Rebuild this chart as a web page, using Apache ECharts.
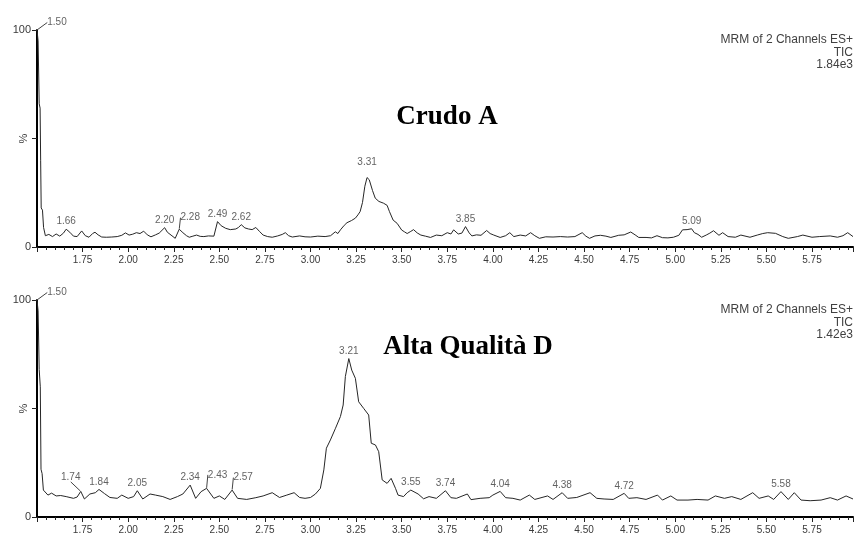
<!DOCTYPE html>
<html>
<head>
<meta charset="utf-8">
<script src="https://cdn.jsdelivr.net/npm/echarts@6/dist/echarts.min.js"></script>
<style>
  html, body { margin: 0; padding: 0; background: #fff; }
  #chart { width: 855px; height: 536px; }
</style>
</head>
<body>
<div id="chart"></div>
<script>
// Retention time axis (minutes) and relative intensity axis (%)
const xMin = 1.5;
const xMax = 5.975;
const xStep = 0.25;
const yTickValues = [0, 50, 100];
const yTickLabels = ['0', '%', '100'];

// Panel headings and acquisition info
const panelTitles = ['Crudo A', 'Alta Qualità D'];
const topInfo = ['MRM of 2 Channels ES+', 'TIC', '1.84e3'];
const bottomInfo = ['MRM of 2 Channels ES+', 'TIC', '1.42e3'];

// TIC trace, sample "Crudo A": [retention time, relative intensity %]
const topTrace = [
  [1.500, 100], [1.506, 95], [1.512, 66], [1.517, 64], [1.520, 40], [1.523, 18], [1.530, 17], [1.536, 9],
  [1.546, 5.2], [1.565, 5.8], [1.585, 4.8], [1.605, 6.0], [1.625, 5.0], [1.645, 6.4], [1.660, 8.2],
  [1.680, 6.8], [1.700, 5.0], [1.720, 4.8], [1.745, 7.4], [1.765, 5.2], [1.785, 4.5], [1.805, 6.2],
  [1.818, 6.8], [1.835, 5.6], [1.855, 4.6], [1.880, 4.5], [1.910, 4.6], [1.940, 4.8], [1.965, 5.4],
  [1.985, 6.5], [2.005, 5.5], [2.025, 5.9], [2.045, 6.6], [2.065, 6.2], [2.085, 7.3], [2.105, 5.6],
  [2.125, 4.7], [2.150, 5.6], [2.170, 6.4], [2.200, 8.9], [2.215, 6.8], [2.235, 5.5], [2.258, 4.0],
  [2.280, 8.2], [2.300, 6.6], [2.320, 5.2], [2.335, 4.5], [2.355, 5.0], [2.375, 5.5], [2.395, 4.9],
  [2.415, 4.8], [2.440, 5.1], [2.470, 5.0], [2.490, 11.7], [2.510, 9.8], [2.535, 8.6], [2.560, 8.0],
  [2.590, 8.3], [2.605, 9.0], [2.620, 10.3], [2.640, 8.8], [2.660, 8.3], [2.680, 8.0], [2.700, 9.0],
  [2.720, 7.2], [2.740, 5.5], [2.765, 4.8], [2.790, 4.5], [2.820, 5.1], [2.845, 5.8], [2.862, 6.6],
  [2.880, 5.2], [2.900, 4.6], [2.940, 5.1], [2.970, 4.7], [3.000, 4.6], [3.040, 5.0], [3.080, 4.8],
  [3.110, 5.2], [3.136, 7.0], [3.150, 6.2], [3.164, 7.9], [3.185, 10.0], [3.200, 11.2], [3.225, 12.2],
  [3.246, 13.3], [3.260, 14.8], [3.272, 16.3], [3.285, 20.5], [3.298, 28], [3.310, 32], [3.322, 31],
  [3.340, 26], [3.355, 22.5], [3.375, 21], [3.400, 20.2], [3.420, 19.2], [3.433, 16.3], [3.453, 12.4],
  [3.475, 10.9], [3.500, 7.8], [3.515, 7.0], [3.530, 6.2], [3.550, 7.2], [3.565, 8.0], [3.585, 6.5],
  [3.605, 5.5], [3.630, 5.0], [3.658, 4.4], [3.690, 5.5], [3.720, 5.2], [3.750, 6.6], [3.770, 6.0],
  [3.785, 7.9], [3.810, 6.0], [3.830, 6.4], [3.850, 9.4], [3.870, 6.5], [3.885, 5.1], [3.910, 5.6],
  [3.935, 5.4], [3.966, 7.6], [3.985, 6.2], [4.005, 5.5], [4.040, 4.4], [4.070, 5.2], [4.093, 6.6],
  [4.115, 4.8], [4.150, 5.5], [4.180, 5.1], [4.207, 6.6], [4.230, 5.2], [4.255, 4.0], [4.290, 4.7],
  [4.330, 4.6], [4.370, 4.8], [4.410, 4.6], [4.450, 4.8], [4.490, 6.6], [4.510, 5.0], [4.530, 4.0],
  [4.560, 5.1], [4.590, 5.4], [4.620, 5.0], [4.647, 4.4], [4.690, 5.4], [4.720, 5.6], [4.756, 6.9],
  [4.780, 5.6], [4.800, 4.4], [4.840, 4.4], [4.870, 4.2], [4.900, 5.2], [4.930, 4.3], [4.960, 4.2],
  [4.990, 4.5], [5.020, 5.4], [5.040, 7.9], [5.065, 8.0], [5.090, 8.4], [5.105, 6.6], [5.125, 5.8],
  [5.145, 4.5], [5.170, 5.5], [5.190, 6.4], [5.210, 7.5], [5.240, 5.4], [5.260, 6.6], [5.290, 4.8],
  [5.330, 4.5], [5.360, 5.5], [5.410, 4.5], [5.450, 5.5], [5.480, 6.2], [5.507, 6.6], [5.550, 6.3],
  [5.590, 4.8], [5.620, 4.0], [5.670, 4.8], [5.700, 5.5], [5.750, 4.5], [5.790, 4.8], [5.850, 5.1],
  [5.890, 4.5], [5.920, 5.2], [5.946, 6.6], [5.975, 4.8]
];

// TIC trace, sample "Alta Qualità D": [retention time, relative intensity %]
const bottomTrace = [
  [1.500, 100], [1.506, 95], [1.512, 68], [1.518, 60], [1.522, 22], [1.528, 20], [1.535, 12.4],
  [1.545, 11.5], [1.560, 10.1], [1.580, 11.0], [1.605, 9.7], [1.630, 9.9], [1.660, 9.4], [1.700, 8.6],
  [1.720, 9.2], [1.740, 11.8], [1.760, 8.3], [1.790, 10.6], [1.820, 11.2], [1.840, 12.7], [1.870, 10.8],
  [1.900, 9.0], [1.940, 8.6], [1.965, 10.1], [2.000, 8.6], [2.030, 9.4], [2.050, 12.1], [2.080, 8.3],
  [2.120, 10.6], [2.150, 10.1], [2.190, 9.4], [2.230, 8.1], [2.270, 9.4], [2.300, 10.6], [2.340, 14.7],
  [2.370, 8.6], [2.400, 11.7], [2.430, 13.2], [2.470, 8.6], [2.500, 9.7], [2.530, 8.1], [2.570, 12.4],
  [2.600, 8.6], [2.650, 8.1], [2.700, 8.9], [2.740, 9.7], [2.790, 11.2], [2.830, 9.0], [2.870, 10.1],
  [2.910, 11.2], [2.940, 9.0], [2.970, 8.6], [3.000, 9.0], [3.027, 10.6], [3.054, 13.2], [3.073, 21.7],
  [3.087, 31.7], [3.109, 35.5], [3.137, 40.9], [3.164, 46.3], [3.179, 51.6], [3.191, 64.7], [3.210, 73],
  [3.226, 67.7], [3.246, 63.9], [3.264, 53.1], [3.292, 50], [3.319, 47], [3.333, 34], [3.356, 33.2],
  [3.374, 30.1], [3.393, 17.1], [3.420, 15.5], [3.442, 17.8], [3.466, 13.2], [3.480, 10.1], [3.510, 9.4],
  [3.530, 11.2], [3.550, 12.4], [3.590, 10.6], [3.620, 8.4], [3.650, 9.4], [3.690, 8.6], [3.740, 12.1],
  [3.770, 8.9], [3.800, 8.6], [3.860, 10.6], [3.880, 8.0], [3.930, 8.6], [3.980, 8.9], [4.000, 10.1],
  [4.040, 11.8], [4.070, 8.9], [4.110, 8.6], [4.150, 7.8], [4.200, 10.1], [4.230, 8.1], [4.300, 9.7],
  [4.330, 8.1], [4.380, 11.2], [4.410, 8.6], [4.460, 9.0], [4.533, 11.2], [4.570, 8.6], [4.610, 8.3],
  [4.660, 8.1], [4.720, 10.9], [4.745, 8.6], [4.790, 8.9], [4.840, 8.1], [4.903, 10.1], [4.930, 7.8],
  [4.976, 9.7], [5.010, 7.8], [5.070, 7.8], [5.120, 8.1], [5.180, 7.8], [5.220, 9.7], [5.270, 8.6],
  [5.310, 9.4], [5.360, 8.1], [5.425, 11.2], [5.460, 8.6], [5.510, 9.7], [5.540, 8.1], [5.580, 11.7],
  [5.620, 8.1], [5.653, 11.2], [5.690, 7.8], [5.740, 7.5], [5.800, 7.8], [5.850, 8.9], [5.890, 7.8],
  [5.937, 9.7], [5.975, 8.3]
];

// Annotated peak apexes (retention times)
const topPeaks = [1.50, 1.66, 2.20, 2.28, 2.49, 2.62, 3.31, 3.85, 5.09];
const bottomPeaks = [1.50, 1.74, 1.84, 2.05, 2.34, 2.43, 2.57, 3.21, 3.55, 3.74, 4.04, 4.38, 4.72, 5.58];

// Label offsets [dx, dy] in px for crowded annotations; leader line drawn when dx != 0
const labelNudge = [
  { '1.50': [20, 0], '2.28': [11, -4], '3.31': [0, -8] },
  { '1.50': [20, 0], '1.74': [-10, -7], '2.43': [11, -6], '2.57': [11, -5] }
];

function peakPoints(trace, times) {
  return times.map(t => trace.find(d => Math.abs(d[0] - t) < 1e-6));
}

const textColor = '#3a3a3a';
const grids = [
  { left: 37, top: 30, width: 816, height: 217 },
  { left: 37, top: 300, width: 816, height: 217 }
];

function xAxisFor(i) {
  return {
    type: 'value', gridIndex: i, min: xMin, max: xMax, interval: xStep,
    axisLine: { show: true, onZero: false, lineStyle: { color: '#000', width: 2 } },
    axisTick: { show: true, length: 5, lineStyle: { color: '#222', width: 1 } },
    minorTick: { show: true, splitNumber: 5, length: 3, lineStyle: { color: '#222', width: 1 } },
    splitLine: { show: false },
    axisLabel: {
      showMinLabel: false, showMaxLabel: false, margin: 8,
      fontSize: 10, fontFamily: 'Liberation Sans', color: textColor,
      formatter: v => v.toFixed(2)
    }
  };
}

// Main intensity axis: line, ticks and the 0 / 100 labels
function yAxisFor(i) {
  return {
    type: 'value', gridIndex: i, min: 0, max: 100, interval: 50,
    axisLine: { show: true, lineStyle: { color: '#000', width: 2 } },
    axisTick: { show: true, length: 5, lineStyle: { color: '#222', width: 1 } },
    splitLine: { show: false },
    axisLabel: {
      margin: 6, fontSize: 11, fontFamily: 'Liberation Sans', color: textColor,
      formatter: v => (v === 50 ? '' : (yTickLabels[yTickValues.indexOf(v)] || ''))
    }
  };
}

// Overlay axis carrying only the sideways "%" unit at mid-height
function yUnitAxisFor(i) {
  return {
    type: 'value', gridIndex: i, min: 0, max: 100, interval: 50, position: 'left',
    axisLine: { show: false }, axisTick: { show: false }, splitLine: { show: false },
    axisLabel: {
      margin: 8, rotate: 90, fontSize: 11, fontFamily: 'Liberation Sans', color: textColor,
      align: 'center', verticalAlign: 'bottom',
      formatter: v => (v === 50 ? yTickLabels[yTickValues.indexOf(v)] : '')
    }
  };
}

function traceSeries(i, data) {
  return {
    type: 'line', xAxisIndex: i, yAxisIndex: i, data: data,
    showSymbol: false, symbol: 'none', smooth: false, clip: true,
    lineStyle: { color: '#262626', width: 1 },
    silent: true, z: 3
  };
}

function peakLabelSeries(i, trace, times) {
  const nudge = labelNudge[i];
  const pts = peakPoints(trace, times);
  return {
    type: 'scatter', xAxisIndex: i, yAxisIndex: i,
    symbolSize: 1, itemStyle: { color: 'rgba(0,0,0,0)' },
    data: pts.map(p => {
      const n = nudge[p[0].toFixed(2)];
      return { value: p, labelLine: { show: !!(n && n[0] !== 0) } };
    }),
    label: {
      show: true, position: 'top', distance: 2,
      fontSize: 10, fontFamily: 'Liberation Sans', color: textColor,
      formatter: prm => prm.value[0].toFixed(2)
    },
    labelLine: { show: false, lineStyle: { color: '#444', width: 1 } },
    labelLayout: prm => {
      const p = pts[prm.dataIndex];
      const n = nudge[p[0].toFixed(2)];
      return n ? { dx: n[0], dy: n[1] } : {};
    },
    silent: true, z: 4
  };
}

// Right-aligned acquisition info block, one text element per line
function infoTexts(lines, top) {
  return lines.map((line, k) => ({
    type: 'text', x: 853, y: top + k * 12.5,
    style: {
      text: line, align: 'right', verticalAlign: 'middle',
      fontSize: 12, fontFamily: 'Liberation Sans', fill: '#404040'
    }
  }));
}

function headingText(text, x, y) {
  return {
    type: 'text', x: x, y: y,
    style: {
      text: text, align: 'center', verticalAlign: 'middle',
      fontSize: 27, fontWeight: 'bold', fontFamily: 'Liberation Serif', fill: '#000'
    }
  };
}

const chart = echarts.init(document.getElementById('chart'), null, { renderer: 'canvas' });
chart.setOption({
  animation: false,
  backgroundColor: '#fff',
  grid: grids,
  xAxis: [xAxisFor(0), xAxisFor(1)],
  yAxis: [yAxisFor(0), yAxisFor(1), yUnitAxisFor(0), yUnitAxisFor(1)],
  series: [
    traceSeries(0, topTrace),
    traceSeries(1, bottomTrace),
    peakLabelSeries(0, topTrace, topPeaks),
    peakLabelSeries(1, bottomTrace, bottomPeaks)
  ],
  graphic: [
    headingText(panelTitles[0], 447, 117),
    headingText(panelTitles[1], 468, 347)
  ].concat(infoTexts(topInfo, 40), infoTexts(bottomInfo, 310))
});
</script>
</body>
</html>
